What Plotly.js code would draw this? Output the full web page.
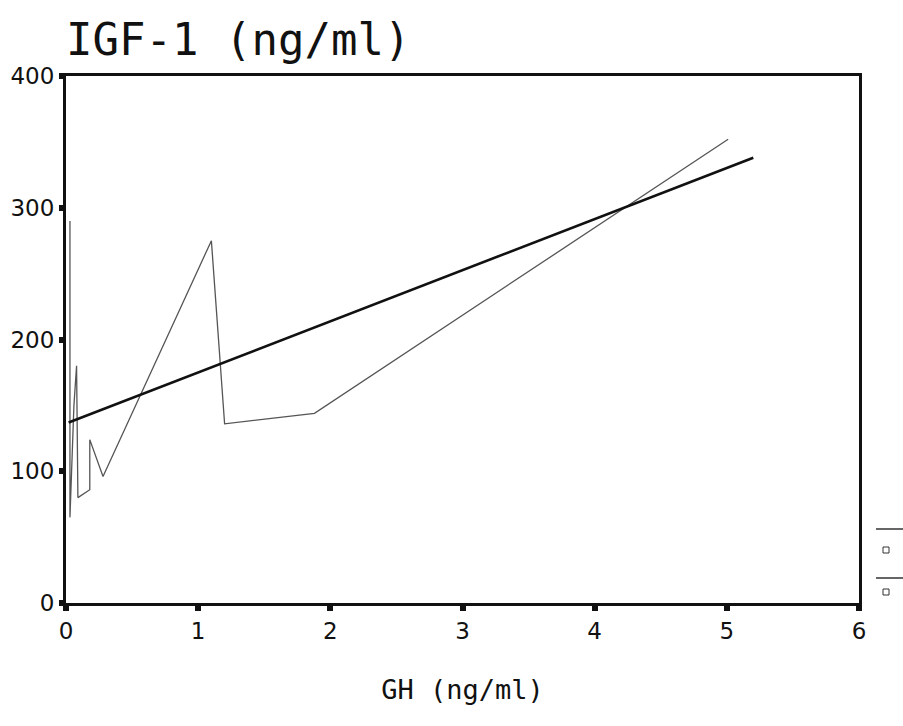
<!DOCTYPE html>
<html><head><meta charset="utf-8">
<script src="https://cdn.plot.ly/plotly-3.0.1.min.js"></script>
<style>body{margin:0;background:#fff}#c{width:903px;height:726px}</style>
</head><body><div id="c"></div>
<script>
const gh  = [0.03, 0.03, 0.06, 0.08, 0.09, 0.18, 0.18, 0.28, 1.10, 1.20, 1.88, 5.01];
const igf = [290, 65, 150, 180, 80, 86, 124, 96, 275, 136, 144, 352];
const fitX = [0.02, 5.2];
const fitY = [137, 338];
const xTicks = [0,1,2,3,4,5,6];
const yTicks = [0,100,200,300,400];

const data = [
  {x: gh, y: igf, mode: 'lines', line: {color: '#555', width: 1.3}, showlegend: false},
  {x: fitX, y: fitY, mode: 'lines', line: {color: '#111', width: 2.6}, showlegend: false}
];
const layout = {
  width: 903, height: 726,
  margin: {l: 66, r: 44, t: 76, b: 123},
  paper_bgcolor: '#fff', plot_bgcolor: '#fff',
  title: {text: 'IGF-1 (ng/ml)', font: {family: 'DejaVu Sans Mono', size: 44, color: '#111'},
          x: 66/903, xanchor: 'left', y: 1 - 40/726, yanchor: 'middle'},
  xaxis: {range: [0, 6], tickvals: xTicks, ticktext: xTicks.map(String),
          showgrid: false, zeroline: false, showline: true, linecolor: '#111', linewidth: 3,
          mirror: true, ticks: 'outside', ticklen: 5, tickwidth: 6, tickcolor: '#111',
          tickfont: {family: 'DejaVu Sans', size: 23, color: '#111'},
          title: {text: 'GH (ng/ml)', font: {family: 'DejaVu Sans Mono', size: 27, color: '#111'}, standoff: 38}},
  yaxis: {range: [0, 400], tickvals: yTicks, ticktext: yTicks.map(String),
          showgrid: false, zeroline: false, showline: true, linecolor: '#111', linewidth: 3,
          mirror: true, ticks: 'outside', ticklen: 4, tickwidth: 6, tickcolor: '#111',
          tickfont: {family: 'DejaVu Sans', size: 23, color: '#111'}},
  shapes: [
    {type: 'line', xref: 'paper', yref: 'paper', x0: (876-66)/793, x1: (903-66)/793, y0: (603-529)/527, y1: (603-529)/527, line: {color: '#333', width: 1.5}},
    {type: 'rect', xref: 'paper', yref: 'paper', x0: (883-66)/793, x1: (889-66)/793, y0: (603-553)/527, y1: (603-547)/527, line: {color: '#333', width: 1}},
    {type: 'line', xref: 'paper', yref: 'paper', x0: (876-66)/793, x1: (903-66)/793, y0: (603-578)/527, y1: (603-578)/527, line: {color: '#333', width: 1.5}},
    {type: 'rect', xref: 'paper', yref: 'paper', x0: (883-66)/793, x1: (889-66)/793, y0: (603-595)/527, y1: (603-589)/527, line: {color: '#333', width: 1}}
  ]
};
Plotly.newPlot('c', data, layout, {displayModeBar: false, staticPlot: true});
</script></body></html>
